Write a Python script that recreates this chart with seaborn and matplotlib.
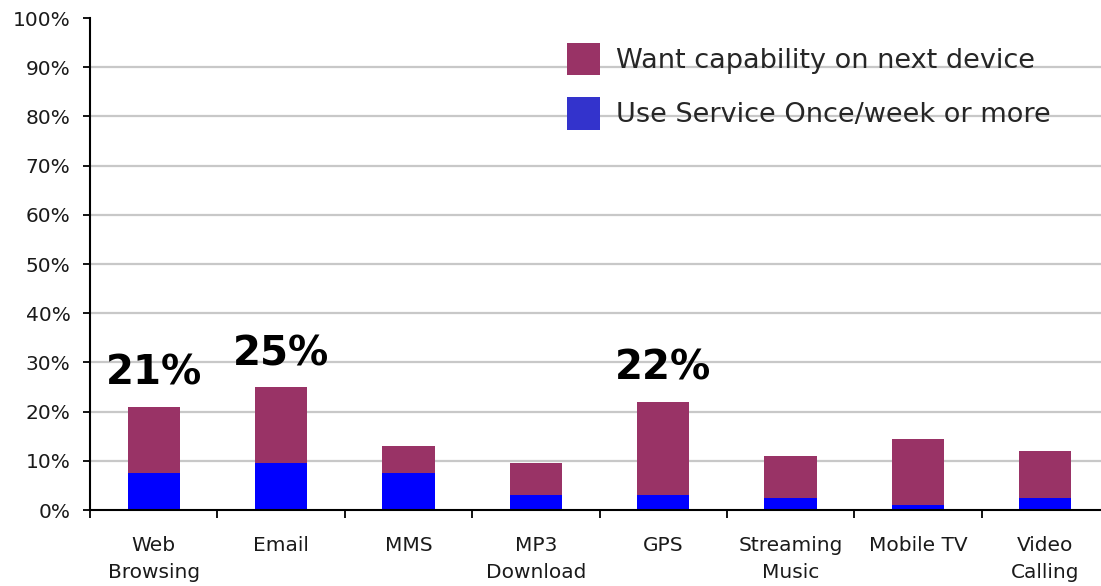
import matplotlib
matplotlib.use("Agg")
import matplotlib.pyplot as plt
from matplotlib.patches import Patch
from matplotlib.ticker import FixedLocator, FuncFormatter
import seaborn as sns
import pandas as pd

services = ["Web\nBrowsing", "Email", "MMS", "MP3\nDownload", "GPS",
            "Streaming\nMusic", "Mobile TV", "Video\nCalling"]
want_next_device = [21, 25, 13, 9.5, 22, 11, 14.5, 12]
use_weekly = [7.5, 9.5, 7.5, 3, 3, 2.5, 1, 2.5]
highlighted = ["Web\nBrowsing", "Email", "GPS"]

series_names = ["Want capability on next device", "Use Service Once/week or more"]
bar_colors = ["#993366", "#0000FF"]
legend_colors = ["#993366", "#3333CC"]

df = pd.DataFrame({"service": services,
                   "want": want_next_device,
                   "use": use_weekly})

sns.set_theme(style="white")
plt.rcParams["font.family"] = ["DejaVu Sans"]

fig = plt.figure(figsize=(11.01, 5.86), dpi=100)
ax = fig.add_axes([90 / 1101, 76 / 586, 1019 / 1101, 492 / 586])

# full-height "want" bars with the weekly-use share drawn over their base
sns.barplot(data=df, x="service", y="want", color=bar_colors[0], width=0.41,
            saturation=1, ax=ax, zorder=3, edgecolor="none", linewidth=0)
sns.barplot(data=df, x="service", y="use", color=bar_colors[1], width=0.41,
            saturation=1, ax=ax, zorder=4, edgecolor="none", linewidth=0)

ax.set_xlim(-0.5, len(services) - 0.5)
ax.set_ylim(0, 100)
ax.set_xlabel("")
ax.set_ylabel("")

# horizontal gridlines
for g in range(10, 100, 10):
    ax.axhline(g, color="#c8c8c8", lw=1.6, zorder=1)

ax.yaxis.set_major_locator(FixedLocator(range(0, 101, 10)))
ax.yaxis.set_major_formatter(FuncFormatter(lambda v, _: f"{v:.0f}%"))
ax.tick_params(axis="y", which="major", direction="out", length=5, width=1.3,
               color="black", labelsize=14.5, labelcolor="#1a1a1a", pad=9, left=True)

ax.set_xticks(range(len(services)))
ax.set_xticklabels(services, fontsize=14.5, color="#1a1a1a", linespacing=1.5)
ax.xaxis.set_minor_locator(FixedLocator([i - 0.5 for i in range(len(services) + 1)]))
ax.tick_params(axis="x", which="major", length=0, pad=19)
ax.tick_params(axis="x", which="minor", direction="out", length=6, width=1.3,
               color="black", bottom=True)

for side in ["top", "right"]:
    ax.spines[side].set_visible(False)
for side in ["left", "bottom"]:
    ax.spines[side].set_color("black")
    ax.spines[side].set_linewidth(1.5)
    ax.spines[side].set_zorder(5)

# value labels above selected bars
for i, (name, val) in enumerate(zip(services, want_next_device)):
    if name in highlighted:
        ax.annotate(f"{val:.0f}%", xy=(i, val), xytext=(0, 22),
                    textcoords="offset pixels", ha="center", va="baseline",
                    fontsize=29, fontweight="bold", color="black", zorder=6)

handles = [Patch(facecolor=c, edgecolor="none") for c in legend_colors]
fig.legend(handles, series_names, loc="upper left",
           bbox_to_anchor=(567 / 1101, 1 - 43 / 586), frameon=False,
           fontsize=19.5, handlelength=1.22, handleheight=1.45,
           handletextpad=0.6, labelspacing=0.82, borderpad=0, borderaxespad=0)

fig.savefig("out.png", dpi=100, facecolor="white")
